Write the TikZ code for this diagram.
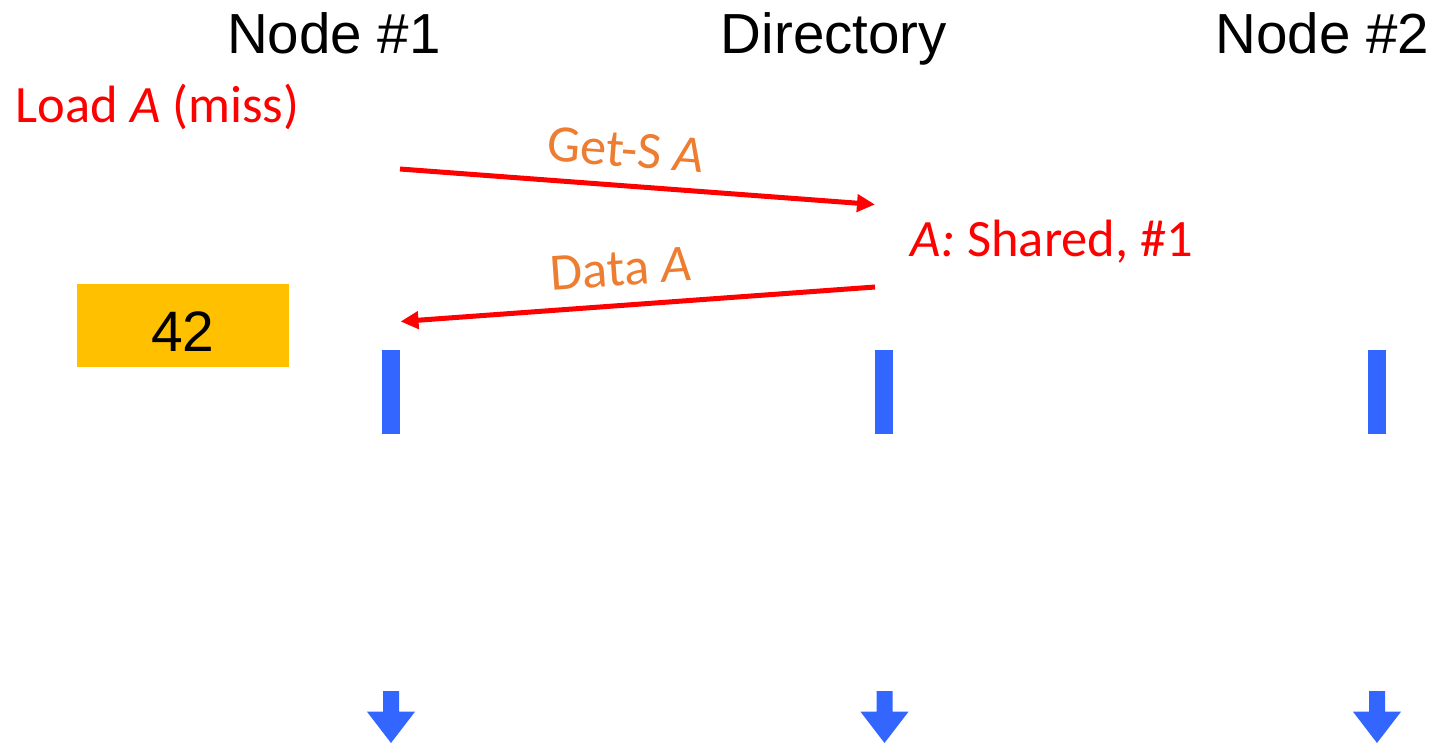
\documentclass[tikz,border=0pt]{standalone}
\usepackage{fontspec}
\setmainfont{Liberation Sans}
\newfontfamily\calib{Carlito}
\usetikzlibrary{arrows.meta}

\definecolor{msgred}{HTML}{FF0000}
\definecolor{msgorange}{HTML}{ED7D31}
\definecolor{cellgold}{HTML}{FFC000}
\definecolor{lifeblue}{HTML}{3366FF}

\tikzset{
  title/.style={font=\fontsize{56.5}{60}\selectfont, anchor=base, inner sep=0},
  redtext/.style={font=\calib\fontsize{52.5}{55}\selectfont, text=msgred, anchor=base, inner sep=0},
  msglabel/.style={font=\calib\fontsize{52.5}{55}\selectfont, text=msgorange, sloped, anchor=south, inner sep=0},
  msg/.style={draw=msgred, line width=5pt, -{Triangle[length=18pt,width=17pt]}},
  lifebar/.style={fill=lifeblue, draw=none, minimum width=18pt, minimum height=83.5pt, inner sep=0},
  cell/.style={fill=cellgold, draw=none, minimum width=212pt, minimum height=82.5pt, inner sep=0,
               text height=52.8pt, text depth=0pt, font=\fontsize{57}{60}\selectfont},
}

\begin{document}
\begin{tikzpicture}[x=1pt, y=-1pt]
  \useasboundingbox (0,0) rectangle (1438,745);

  % column headings
  \node[title] (h1) at (334,53) {Node \#1};
  \node[title] (hd) at (834,53) {Directory};
  \node[title] (h2) at (1322.5,53) {Node \#2};

  % processor event and directory state
  \node[redtext] (load) at (157.5,122.7) {Load \textit{A} (miss)};
  \node[redtext] (state) at (1052,256.7) {\textit{A:} Shared, \#1};

  % cached value
  \node[cell] (val) at (182.8,325.3) {42};

  % lifeline bars
  \node[lifebar] (b1) at (391,391.8) {};
  \node[lifebar] (bd) at (884,391.8) {};
  \node[lifebar] (b2) at (1377,391.8) {};

  % message endpoints
  \coordinate (reqfrom) at (400,169);
  \coordinate (reqto) at (875,204.5);
  \coordinate (repfrom) at (875,287);
  \coordinate (repto) at (400.5,321.5);

  \draw[msg] (reqfrom) -- node[msglabel, pos=0.47, above=16pt] {Get-S \textit{A}} (reqto);
  \draw[msg] (repfrom) -- node[msglabel, pos=0.53, above=17pt] {Data \textit{A}} (repto);

  % time continues downward
  \foreach \cx/\nm in {391/t1, 884.5/td, 1377/t2}{
    \coordinate (\nm) at (\cx,743);
    \fill[lifeblue] (\nm) -- ++(-24,-31.3) -- ++(16,0) -- ++(0,-20.7)
      -- ++(16,0) -- ++(0,20.7) -- ++(16,0) -- cycle;
  }
\end{tikzpicture}
\end{document}
